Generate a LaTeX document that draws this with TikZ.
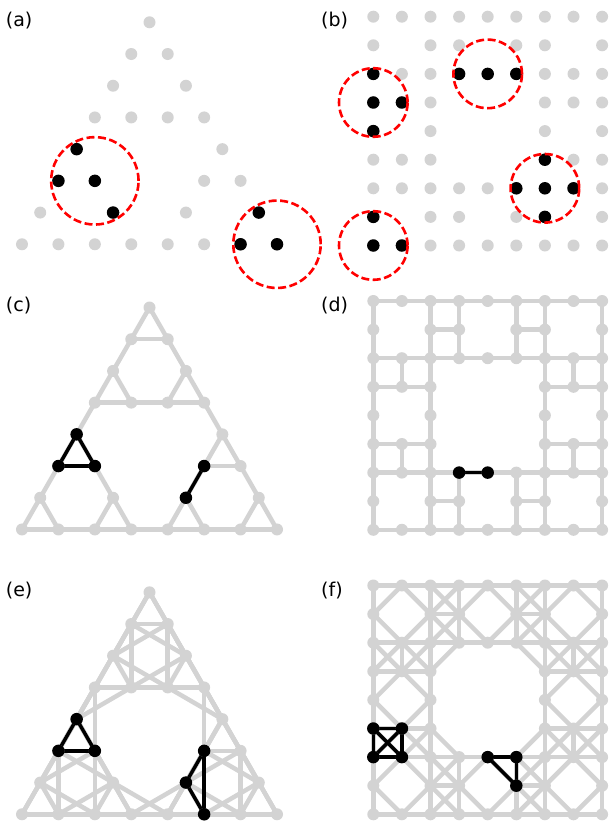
\documentclass[tikz,border=0pt]{standalone}
\usepackage{fontspec}
\setmainfont{DejaVu Sans}
\definecolor{lg}{RGB}{211,211,211}
\pgfdeclarelayer{edges}
\pgfdeclarelayer{hl}
\pgfsetlayers{edges,hl,main}
\tikzset{
  vtx/.style={circle,fill=lg,inner sep=0pt,minimum size=12pt},
  bvtx/.style={circle,fill=black,inner sep=0pt,minimum size=12.5pt},
  ge/.style={draw=lg,line width=4.5pt},
  be/.style={draw=black,line width=3.5pt},
  rc/.style={draw=red,line width=2.6pt,dash pattern=on 8pt off 3.5pt},
  lab/.style={anchor=base west,inner sep=0pt,font=\fontsize{19}{22}\selectfont}
}
% existence table of the carpet-like grid
\foreach \r/\cl in {0/{0,1,2,3,4,5,6,7,8},1/{0,2,3,5,6,8},2/{0,1,2,3,4,5,6,7,8},3/{0,1,2,6,7,8},4/{0,2,6,8},5/{0,1,2,6,7,8},6/{0,1,2,3,4,5,6,7,8},7/{0,2,3,5,6,8},8/{0,1,2,3,4,5,6,7,8}}{\foreach \c in \cl {\expandafter\gdef\csname gv-\c-\r\endcsname{}}}
\newcommand\gv[3]{\ifcsname gv-#2-#3\endcsname\def#1{1}\else\def#1{0}\fi}
\newcommand\gridnodes[2]{\foreach \c in {0,...,8}{\foreach \r in {0,...,8}{\gv\exA\c\r\ifnum\exA=1 \node[vtx] (#1-\c-\r) at ({373.3+\c*28.6},{#2+\r*28.6}) {};\fi}}}
\newcommand\gridedges[2]{\foreach \c in {0,...,8}{\foreach \r in {0,...,8}{%
  \pgfmathtruncatemacro\cn{\c+1}\pgfmathtruncatemacro\rn{\r+1}%
  \gv\exA\c\r\gv\exB\cn\r\gv\exC\c\rn\gv\exD\cn\rn
  \ifnum\exA\exB=11 \draw[ge] (#1-\c-\r.center) -- (#1-\cn-\r.center);\fi
  \ifnum\exA\exC=11 \draw[ge] (#1-\c-\r.center) -- (#1-\c-\rn.center);\fi
  \ifnum#2=1
    \ifnum\exA\exD=11 \ifnum\exB\exC>0 \draw[ge] (#1-\c-\r.center) -- (#1-\cn-\rn.center);\fi\fi
    \ifnum\exB\exC=11 \ifnum\exA\exD>0 \draw[ge] (#1-\cn-\r.center) -- (#1-\c-\rn.center);\fi\fi
  \fi}}}
\newcommand\tripanel[2]{\foreach \r/\k in {0/0,1/0,1/1,2/0,2/2,3/0,3/1,3/2,3/3,4/0,4/4,5/0,5/1,5/4,5/5,6/0,6/2,6/4,6/6,7/0,7/1,7/2,7/3,7/4,7/5,7/6,7/7}
   \node[vtx] (#1\r\k) at ({149.5+(\k-\r/2)*36.43},{#2+\r*31.71}) {};}
\def\hanoiE{00/10,00/11,10/11,20/30,20/31,30/31,22/32,22/33,32/33,40/50,40/51,50/51,44/54,44/55,54/55,60/70,60/71,70/71,62/72,62/73,72/73,64/74,64/75,74/75,66/76,66/77,76/77,10/20,11/22,31/32,30/40,33/44,50/60,51/62,71/72,54/64,55/66,75/76,73/74}
\def\hanoiX{20/00,20/11,10/30,10/31,22/00,22/10,11/32,11/33,32/20,32/30,31/22,31/33,40/20,40/31,30/50,30/51,44/22,44/32,33/54,33/55,60/40,60/51,50/70,50/71,62/40,62/50,51/72,51/73,72/60,72/70,71/62,71/73,64/44,64/55,54/74,54/75,66/44,66/54,55/76,55/77,76/64,76/74,75/66,75/77,74/62,74/72,73/64,73/75}
\begin{document}
\begin{tikzpicture}[x=1pt,y=-1pt]
\useasboundingbox (0,0) rectangle (609,821);
% labels
\node[lab] (la) at (5.7,26.3) {(a)};
\node[lab] (lb) at (321,26.3) {(b)};
\node[lab] (lc) at (5.7,311.3) {(c)};
\node[lab] (ld) at (321,311.3) {(d)};
\node[lab] (le) at (5.7,596.3) {(e)};
\node[lab] (lf) at (321,596.3) {(f)};
% (a)
\tripanel{a}{22.3}
\foreach \v in {40,50,51,62,66,76,77} \node[bvtx] (a\v b) at (a\v) {};
\draw[rc] (a51.center) circle[radius=43.7pt];
\draw[rc] (a77.center) circle[radius=43.7pt];
% (b)
\gridnodes{b}{16.7}
\foreach \v in {0-2,0-3,1-3,0-4,3-2,4-2,5-2,6-5,5-6,6-6,7-6,6-7,0-7,0-8,1-8} \node[bvtx] (b-\v b) at (b-\v) {};
\foreach \v in {0-3,4-2,6-6,0-8} \draw[rc] (b-\v.center) circle[radius=34.3pt];
% (c)
\tripanel{c}{307.5}
\begin{pgfonlayer}{edges}
\foreach \u/\v in \hanoiE {\draw[ge] (c\u.center) -- (c\v.center);}
\end{pgfonlayer}
\begin{pgfonlayer}{hl}
\foreach \u/\v in {40/50,40/51,50/51,54/64} {\draw[be] (c\u.center) -- (c\v.center);}
\end{pgfonlayer}
\foreach \v in {40,50,51,54,64} \node[bvtx] (c\v b) at (c\v) {};
% (d)
\gridnodes{d}{301}
\begin{pgfonlayer}{edges}
\gridedges{d}{0}
\end{pgfonlayer}
\begin{pgfonlayer}{hl}
\draw[be] (d-3-6.center) -- (d-4-6.center);
\end{pgfonlayer}
\foreach \v in {3-6,4-6} \node[bvtx] (d-\v b) at (d-\v) {};
% (e)
\tripanel{e}{592.3}
\begin{pgfonlayer}{edges}
\foreach \u/\v in \hanoiE {\draw[ge] (e\u.center) -- (e\v.center);}
\foreach \u/\v in \hanoiX {\draw[ge] (e\u.center) -- (e\v.center);}
\end{pgfonlayer}
\begin{pgfonlayer}{hl}
\foreach \u/\v in {40/50,40/51,50/51,54/64,64/75,54/75} {\draw[be] (e\u.center) -- (e\v.center);}
\end{pgfonlayer}
\foreach \v in {40,50,51,54,64,75} \node[bvtx] (e\v b) at (e\v) {};
% (f)
\gridnodes{f}{585.5}
\begin{pgfonlayer}{edges}
\gridedges{f}{1}
\end{pgfonlayer}
\begin{pgfonlayer}{hl}
\foreach \u/\v in {0-5/1-5,0-6/1-6,0-5/0-6,1-5/1-6,0-5/1-6,1-5/0-6,4-6/5-6,5-6/5-7,4-6/5-7} {\draw[be] (f-\u.center) -- (f-\v.center);}
\end{pgfonlayer}
\foreach \v in {0-5,1-5,0-6,1-6,4-6,5-6,5-7} \node[bvtx] (f-\v b) at (f-\v) {};
\end{tikzpicture}
\end{document}
